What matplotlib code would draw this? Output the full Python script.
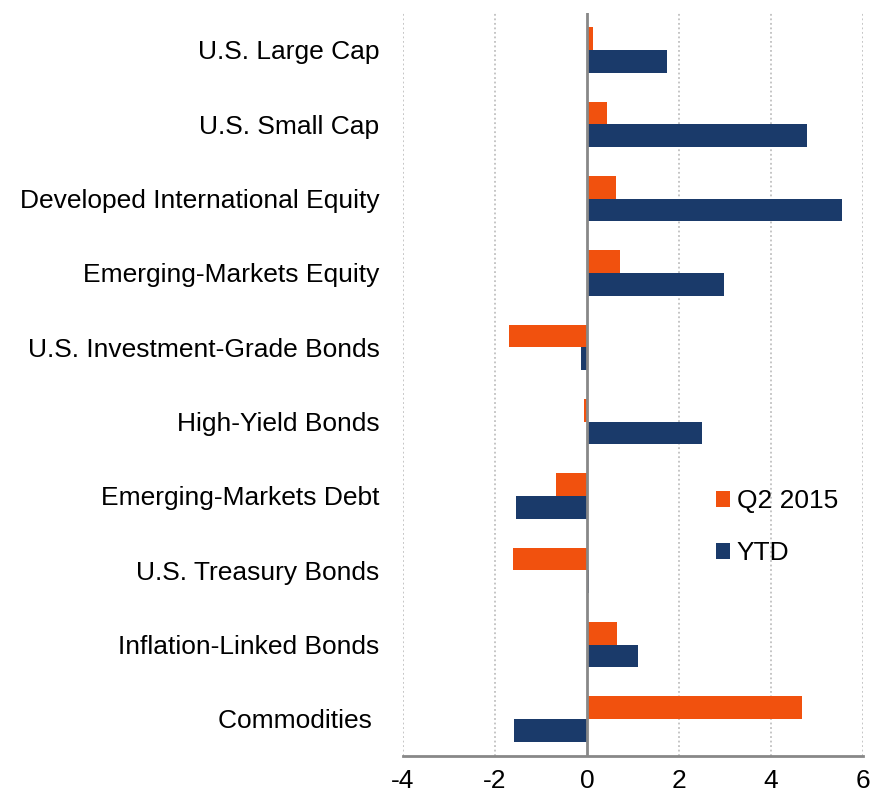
#!/usr/bin/env python3

# Q2 2015 / YTD returns by asset class, horizontal grouped bars

import matplotlib
matplotlib.use("Agg")
import matplotlib.pyplot as plt
import numpy as np

plt.rcParams['font.family'] = ['Liberation Sans', 'DejaVu Sans']

categories = ["U.S. Large Cap", "U.S. Small Cap", "Developed International Equity",
              "Emerging-Markets Equity", "U.S. Investment-Grade Bonds", "High-Yield Bonds",
              "Emerging-Markets Debt", "U.S. Treasury Bonds", "Inflation-Linked Bonds",
              "Commodities "]
q2_2015 = [0.13, 0.43, 0.64, 0.71, -1.70, -0.07, -0.67, -1.61, 0.65, 4.68]
ytd = [1.73, 4.78, 5.54, 2.97, -0.12, 2.51, -1.55, 0.04, 1.10, -1.59]
x_ticks = [-4, -2, 0, 2, 4, 6]

ORANGE = '#F1510E'
NAVY = '#1A3A6A'
FS = 19

fig = plt.figure(figsize=(8.71, 8.00), dpi=100)
ax = fig.add_axes([0.4627, 0.055, 0.5281, 0.929])

y = np.arange(len(categories))
h = 0.305
ax.barh(y - h / 2, q2_2015, height=h, color=ORANGE, label='Q2 2015', zorder=3)
ax.barh(y + h / 2, ytd, height=h, color=NAVY, label='YTD', zorder=3)

ax.set_xlim(-4, 6)
ax.set_ylim(len(categories) - 0.5, -0.5)
ax.set_xticks(x_ticks)
ax.set_xticklabels([str(t) for t in x_ticks])
ax.set_yticks(y)
ax.set_yticklabels(categories)
ax.tick_params(axis='y', length=0, pad=17, labelsize=FS)
ax.tick_params(axis='x', length=0, pad=9, labelsize=FS)

for s in ['top', 'right', 'left']:
    ax.spines[s].set_visible(False)
ax.spines['bottom'].set_color('#888888')
ax.spines['bottom'].set_linewidth(2)
ax.spines['bottom'].set_zorder(4)

for t in x_ticks:
    if t != 0:
        ax.axvline(t, color='#C0C0C0', linestyle=(0, (1, 1.5)), linewidth=1.3, zorder=1)
ax.axvline(0, color='#888888', linewidth=2, zorder=4)

ax.legend(loc='center left', bbox_to_anchor=(0.628, 0.308), frameon=False,
          fontsize=FS, handlelength=0.55, handleheight=0.55, handletextpad=0.25,
          labelspacing=1.05)

plt.savefig("out.png", dpi=100)
